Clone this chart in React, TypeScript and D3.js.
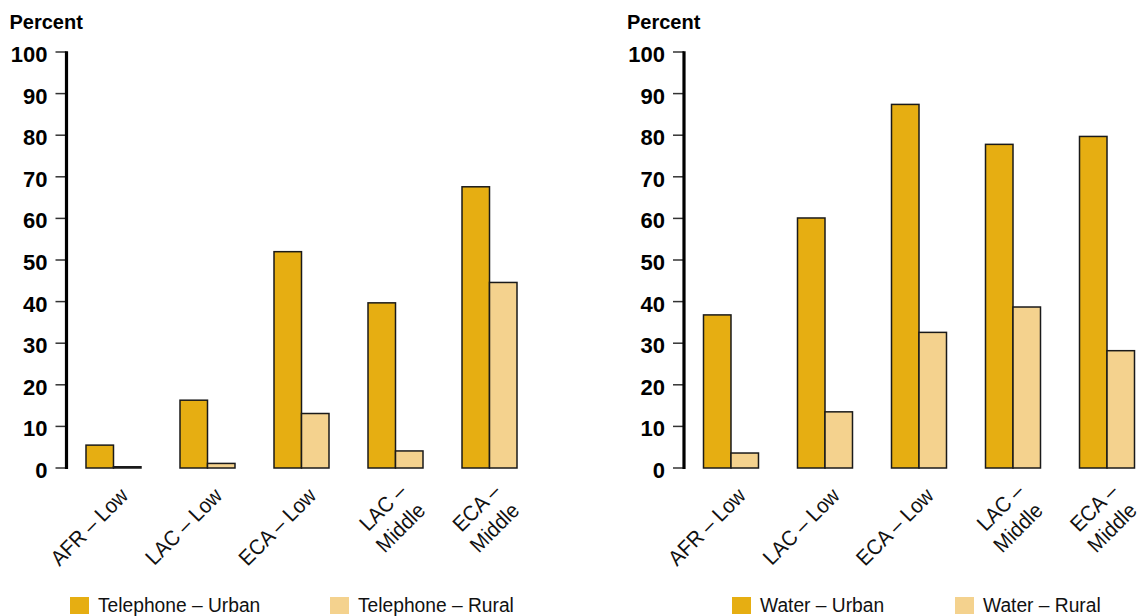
import React from "react";
import * as d3 from "d3";

// Region / income groups along the x axis
const categories = ["AFR – Low", "LAC – Low", "ECA – Low", "LAC – Middle", "ECA – Middle"];
const categoryLines = [["AFR – Low"], ["LAC – Low"], ["ECA – Low"], ["LAC –", "Middle"], ["ECA –", "Middle"]];

// Access rates, percent of households
const telephoneUrban = [5.5, 16.3, 52.0, 39.7, 67.6];
const telephoneRural = [0.3, 1.1, 13.1, 4.1, 44.6];
const waterUrban = [36.8, 60.1, 87.4, 77.8, 79.7];
const waterRural = [3.6, 13.5, 32.6, 38.7, 28.2];

const yTicks = [0, 10, 20, 30, 40, 50, 60, 70, 80, 90, 100];
const seriesKeys = ["urban", "rural"];

const W = 1146;
const H = 616;
const URBAN = "#E6AE12";
const RURAL = "#F4D28E";
const BODY_FONT = "'Liberation Sans', Arial, sans-serif";

interface PanelProps {
  axisX: number;
  urban: number[];
  rural: number[];
  legend: [string, string];
  legendX: [number, number];
}

function Panel({ axisX, urban, rural, legend, legendX }: PanelProps) {
  const y = d3.scaleLinear().domain([0, 100]).range([468, 52]);
  const x = d3
    .scaleBand<string>()
    .domain(categories)
    .range([axisX, axisX + 470])
    .paddingInner(0.415)
    .paddingOuter(0.2074);
  const xs = d3.scaleBand<string>().domain(seriesKeys).range([0, x.bandwidth()]);
  const values: Record<string, number[]> = { urban, rural };
  const fills: Record<string, string> = { urban: URBAN, rural: RURAL };

  return (
    <g>
      <text x={axisX - 57} y={29} fontFamily={BODY_FONT} fontWeight="bold" fontSize={20} fill="#000">
        Percent
      </text>
      {yTicks.map((t) => (
        <g key={t}>
          <line x1={axisX - 11} x2={axisX} y1={y(t)} y2={y(t)} stroke="#333" strokeWidth={1.5} />
          <text
            x={axisX - 19}
            y={y(t) + 10}
            textAnchor="end"
            fontFamily={BODY_FONT}
            fontWeight="bold"
            fontSize={22}
            fill="#000"
          >
            {t}
          </text>
        </g>
      ))}
      <line x1={axisX} x2={axisX} y1={y(100) - 0.75} y2={y(0) + 1} stroke="#000" strokeWidth={3.2} />
      {categories.map((c, i) =>
        seriesKeys.map((k) => {
          const v = values[k][i];
          const bx = (x(c) as number) + (xs(k) as number);
          return (
            <rect
              key={c + k}
              x={bx}
              y={y(v)}
              width={xs.bandwidth()}
              height={y(0) - y(v)}
              fill={fills[k]}
              stroke="#1a1a1a"
              strokeWidth={1.5}
            />
          );
        })
      )}
      {categories.map((c, i) => {
        const cx = (x(c) as number) + x.bandwidth() / 2;
        const lines = categoryLines[i];
        return lines.map((ln, j) => {
          const multi = lines.length > 1;
          const px = cx + (multi ? 12 : 16) + j * 19;
          const py = (multi ? 493 : 497) + j * 19;
          return (
            <text
              key={c + j}
              transform={`translate(${px},${py}) rotate(-45) scale(0.93,1)`}
              textAnchor="end"
              fontFamily={BODY_FONT}
              fontSize={21.5}
              fill="#111"
            >
              {ln}
            </text>
          );
        });
      })}
      {legend.map((lbl, i) => (
        <g key={lbl}>
          <rect x={legendX[i]} y={597} width={19} height={17} fill={i === 0 ? URBAN : RURAL} />
          <text
            transform={`translate(${legendX[i] + 28},${612}) scale(0.915,1)`}
            fontFamily={BODY_FONT}
            fontSize={21}
            fill="#111"
          >
            {lbl}
          </text>
        </g>
      ))}
    </g>
  );
}

export default function App() {
  return (
    <svg
      width={W}
      height={H}
      viewBox={`0 0 ${W} ${H}`}
      style={{ position: "absolute", left: 0, top: 0, background: "#fff" }}
    >
      <rect width={W} height={H} fill="#fff" />
      <Panel
        axisX={66.5}
        urban={telephoneUrban}
        rural={telephoneRural}
        legend={["Telephone – Urban", "Telephone – Rural"]}
        legendX={[70, 330]}
      />
      <Panel
        axisX={684}
        urban={waterUrban}
        rural={waterRural}
        legend={["Water – Urban", "Water – Rural"]}
        legendX={[732, 955]}
      />
    </svg>
  );
}
